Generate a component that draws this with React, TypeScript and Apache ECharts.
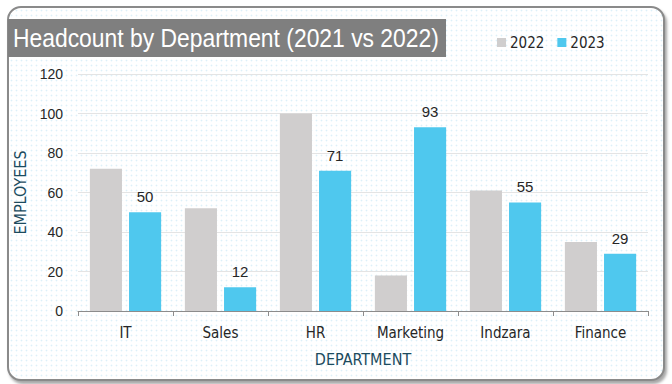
import React, { useEffect, useRef } from "react";
import * as echarts from "echarts";

const categories = ["IT", "Sales", "HR", "Marketing", "Indzara", "Finance"];
const values2022 = [72, 52, 100, 18, 61, 35];
const values2023 = [50, 12, 71, 93, 55, 29];
const yTicks = { min: 0, max: 120, interval: 20 };
const titleText = "Headcount by Department (2021 vs 2022)";

const NARROW = "'Liberation Sans Narrow', 'DejaVu Sans Condensed', 'Roboto', sans-serif";
const SANS = "'Liberation Sans', Arial, sans-serif";

function measure(text: string, font: string): number {
  const c = document.createElement("canvas");
  const ctx = c.getContext("2d");
  if (!ctx) return text.length * 12;
  ctx.font = font;
  return ctx.measureText(text).width;
}

export default function App() {
  const ref = useRef<HTMLDivElement>(null);
  useEffect(() => {
    if (!ref.current) return;
    const chart = echarts.init(ref.current, undefined, { renderer: "svg" });
    const titleFont = `25px 'Liberation Sans', Arial, sans-serif`;
    const tw = measure(titleText, titleFont);
    const sx = 426 / tw;
    chart.setOption({
      animation: false,
      backgroundColor: "transparent",
      grid: { left: 78, right: 24, top: 74, bottom: 73 },
      graphic: [
        {
          type: "rect",
          shape: { x: 8, y: 19, width: 438, height: 38 },
          style: { fill: "#7f7f7f" },
          z: 10,
        },
        {
          type: "text",
          x: 13,
          y: 38,
          scaleX: sx,
          scaleY: 1,
          style: {
            text: titleText,
            fill: "#ffffff",
            font: titleFont,
            textVerticalAlign: "middle",
          },
          z: 11,
        },
      ],
      legend: {
        left: 492,
        top: 30,
        itemWidth: 9,
        itemHeight: 9,
        itemGap: 13,
        icon: "rect",
        textStyle: { fontFamily: NARROW, fontSize: 15, color: "#262626", padding: [0, 0, 0, -1] },
        data: ["2022", "2023"],
      },
      xAxis: {
        type: "category",
        data: categories,
        name: "DEPARTMENT",
        nameLocation: "middle",
        nameGap: 40,
        nameTextStyle: { fontFamily: NARROW, fontSize: 16, color: "#1b4b5e" },
        axisLine: { lineStyle: { color: "#8c8c8c", width: 1 } },
        axisTick: { show: true, length: 5, lineStyle: { color: "#8c8c8c" } },
        axisLabel: { fontFamily: NARROW, fontSize: 15, color: "#262626", margin: 14 },
      },
      yAxis: {
        type: "value",
        min: yTicks.min,
        max: yTicks.max,
        interval: yTicks.interval,
        name: "EMPLOYEES",
        nameLocation: "middle",
        nameGap: 44,
        nameRotate: 90,
        nameTextStyle: { fontFamily: NARROW, fontSize: 16, color: "#1b4b5e" },
        axisLine: { show: false },
        axisTick: { show: false },
        axisLabel: { fontFamily: SANS, fontSize: 14, color: "#262626", margin: 15 },
        splitLine: { lineStyle: { color: "#e4e4e4" } },
      },
      series: [
        {
          name: "2022",
          type: "bar",
          data: values2022,
          itemStyle: { color: "#d0cece" },
          barGap: "22%",
          barCategoryGap: "25%",
        },
        {
          name: "2023",
          type: "bar",
          data: values2023,
          itemStyle: { color: "#4fc8ee" },
          label: {
            show: true,
            position: "top",
            distance: 8,
            fontFamily: SANS,
            fontSize: 15,
            color: "#262626",
          },
        },
      ],
    });
    return () => chart.dispose();
  }, []);

  return (
    <div style={{ position: "fixed", left: 0, top: 0, width: 672, height: 384, background: "#fff" }}>
      <div
        style={{
          position: "absolute",
          left: 7,
          top: 6,
          width: 658,
          height: 375,
          boxSizing: "border-box",
          border: "2px solid #8a8a8a",
          borderRadius: 14,
          boxShadow: "2px 3px 3px rgba(0,0,0,0.35)",
          backgroundColor: "#ffffff",
          backgroundImage: "radial-gradient(circle, #dcf0f9 0.8px, transparent 1.1px)",
          backgroundSize: "5px 5px",
        }}
      />
      <div ref={ref} style={{ position: "absolute", left: 0, top: 0, width: 672, height: 384 }} />
    </div>
  );
}
